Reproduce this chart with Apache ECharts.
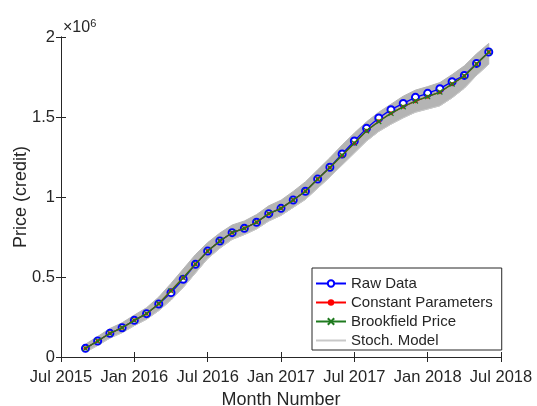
<!DOCTYPE html>
<html>
<head>
<meta charset="utf-8">
<script src="https://cdn.jsdelivr.net/npm/echarts@6/dist/echarts.min.js"></script>
<style>
html, body { margin: 0; padding: 0; background: #fff; }
#price { width: 537px; height: 406px; }
</style>
</head>
<body>
<div id="price"></div>
<script>
// month offsets counted from Jul 2015
var tickLabels = ['Jul 2015', 'Jan 2016', 'Jul 2016', 'Jan 2017', 'Jul 2017', 'Jan 2018', 'Jul 2018'];
var months = [2, 3, 4, 5, 6, 7, 8, 9, 10, 11, 12, 13, 14, 15, 16, 17, 18,
	19, 20, 21, 22, 23, 24, 25, 26, 27, 28, 29, 30, 31, 32, 33, 34, 35];

// prices in millions of credits
var rawData = [0.054, 0.100, 0.148, 0.183, 0.229, 0.271, 0.331, 0.402, 0.486, 0.579, 0.662, 0.725,
	0.777, 0.804, 0.842, 0.896, 0.929, 0.981, 1.036, 1.112, 1.186, 1.269, 1.350, 1.429,
	1.494, 1.546, 1.585, 1.623, 1.648, 1.677, 1.721, 1.760, 1.835, 1.906];
var constParams = [0.054, 0.100, 0.148, 0.183, 0.229, 0.271, 0.333, 0.414, 0.496, 0.580, 0.662, 0.725,
	0.777, 0.804, 0.842, 0.896, 0.929, 0.981, 1.036, 1.112, 1.184, 1.260, 1.336, 1.414,
	1.473, 1.523, 1.564, 1.599, 1.627, 1.655, 1.706, 1.756, 1.831, 1.906];
var brookfield = [0.054, 0.100, 0.148, 0.183, 0.229, 0.271, 0.333, 0.413, 0.495, 0.580, 0.662, 0.725,
	0.777, 0.804, 0.842, 0.896, 0.929, 0.981, 1.036, 1.112, 1.184, 1.261, 1.337, 1.414,
	1.472, 1.523, 1.564, 1.600, 1.627, 1.656, 1.706, 1.756, 1.831, 1.906];
var stochLow = [0.030, 0.072, 0.118, 0.152, 0.196, 0.236, 0.290, 0.355, 0.435, 0.525, 0.615, 0.680,
	0.735, 0.765, 0.800, 0.850, 0.885, 0.935, 0.985, 1.055, 1.125, 1.200, 1.275, 1.350,
	1.410, 1.455, 1.495, 1.530, 1.550, 1.570, 1.620, 1.680, 1.760, 1.830];
var stochHigh = [0.080, 0.128, 0.178, 0.214, 0.262, 0.308, 0.375, 0.460, 0.550, 0.640, 0.715, 0.775,
	0.825, 0.850, 0.890, 0.945, 0.980, 1.035, 1.095, 1.170, 1.245, 1.325, 1.400, 1.470,
	1.530, 1.580, 1.630, 1.668, 1.690, 1.715, 1.765, 1.820, 1.895, 1.960];

function pairs(vals) {
	return months.map(function (m, i) { return [m, vals[i]]; });
}

var axisColor = '#262626';
var blue = '#0000ff', red = '#ff0000', green = '#1f7a1f', gray = '#b4b4b4';
var font = 'Liberation Sans, Arial, Helvetica, sans-serif';
var xMark = 'path://M0,0L10,10M10,0L0,10';

var priceChart = echarts.init(document.getElementById('price'));
var priceOption = {
	animation: false,
	textStyle: { fontFamily: font },
	grid: { left: 61, right: 36, top: 37, bottom: 49, outerBoundsMode: 'none', containLabel: false },
	graphic: [{
		type: 'text',
		left: 63,
		top: 18,
		style: {
			text: '{a|\u00d710}{b|6}',
			rich: {
				a: { fontSize: 16, fontFamily: font, fill: axisColor },
				b: { fontSize: 11, fontFamily: font, fill: axisColor, padding: [0, 0, 9, 0] }
			}
		}
	}],
	legend: {
		orient: 'vertical',
		left: 312,
		top: 268,
		padding: [6, 9, 0, 3],
		itemGap: 0,
		itemWidth: 30,
		itemHeight: 8,
		backgroundColor: '#fff',
		borderColor: axisColor,
		borderWidth: 1,
		borderRadius: 0,
		textStyle: { fontSize: 15, color: axisColor, fontFamily: font, lineHeight: 19 },
		data: ['Raw Data', 'Constant Parameters', 'Brookfield Price', {
			name: 'Stoch. Model',
			itemStyle: { opacity: 0 }
		}]
	},
	xAxis: [{
		type: 'value',
		min: 0,
		max: 36,
		interval: 6,
		name: 'Month Number',
		nameLocation: 'middle',
		nameGap: 34,
		nameTextStyle: { fontSize: 18, color: axisColor },
		axisLine: { lineStyle: { color: axisColor } },
		axisTick: { inside: true, length: 5, lineStyle: { color: axisColor } },
		axisLabel: {
			fontSize: 16.5, color: axisColor, margin: 12,
			formatter: function (v) { return tickLabels[v / 6]; }
		},
		splitLine: { show: false }
	}, {
		type: 'value',
		position: 'top',
		min: 0,
		max: 36,
		interval: 6,
		axisLine: { show: true, lineStyle: { color: axisColor } },
		axisTick: { inside: true, length: 5, lineStyle: { color: axisColor } },
		axisLabel: { show: false },
		splitLine: { show: false }
	}],
	yAxis: [{
		type: 'value',
		min: 0,
		max: 2,
		interval: 0.5,
		name: 'Price (credit)',
		nameLocation: 'middle',
		nameGap: 31,
		nameMoveOverlap: false,
		nameTextStyle: { fontSize: 18, color: axisColor },
		axisLine: { show: true, lineStyle: { color: axisColor } },
		axisTick: { show: true, inside: true, length: 5, lineStyle: { color: axisColor } },
		axisLabel: { fontSize: 16.5, color: axisColor, margin: 6 },
		splitLine: { show: false }
	}, {
		type: 'value',
		position: 'right',
		min: 0,
		max: 2,
		interval: 0.5,
		axisLine: { show: true, lineStyle: { color: axisColor } },
		axisTick: { show: true, inside: true, length: 5, lineStyle: { color: axisColor } },
		axisLabel: { show: false },
		splitLine: { show: false }
	}],
	series: [{
		// spread of the stochastic runs, drawn as one filled band
		name: 'stochBand',
		type: 'custom',
		data: pairs(stochLow),
		renderItem: function (params, api) {
			if (params.dataIndex !== 0) return;
			var pts = [];
			for (var i = 0; i < months.length; i++) pts.push(api.coord([months[i], stochHigh[i]]));
			for (var j = months.length - 1; j >= 0; j--) pts.push(api.coord([months[j], stochLow[j]]));
			return {
				type: 'polygon',
				shape: { points: pts },
				style: { fill: gray, stroke: gray, lineWidth: 1 }
			};
		},
		silent: true,
		z: 1
	}, {
		name: 'Stoch. Model',
		type: 'line',
		data: pairs(stochLow),
		showSymbol: false,
		symbol: 'circle',
		color: '#c8c8c8',
		lineStyle: { color: '#c8c8c8', width: 1 },
		itemStyle: { color: '#c8c8c8' },
		z: 1
	}, {
		name: 'Raw Data',
		type: 'line',
		data: pairs(rawData),
		symbol: 'emptyCircle',
		symbolSize: 7,
		color: blue,
		lineStyle: { color: blue, width: 1.3 },
		itemStyle: { color: blue, borderColor: blue, borderWidth: 1.3 },
		z: 2
	}, {
		name: 'Constant Parameters',
		type: 'line',
		data: pairs(constParams),
		symbol: 'circle',
		symbolSize: 4,
		color: red,
		lineStyle: { color: red, width: 1.3 },
		itemStyle: { color: red },
		z: 3
	}, {
		name: 'Brookfield Price',
		type: 'line',
		data: pairs(brookfield),
		symbol: xMark,
		symbolSize: 5,
		color: green,
		lineStyle: { color: green, width: 1.3 },
		itemStyle: { color: green, borderColor: green, borderWidth: 1.2 },
		z: 4
	}]
};
priceChart.setOption(priceOption);
</script>
</body>
</html>
